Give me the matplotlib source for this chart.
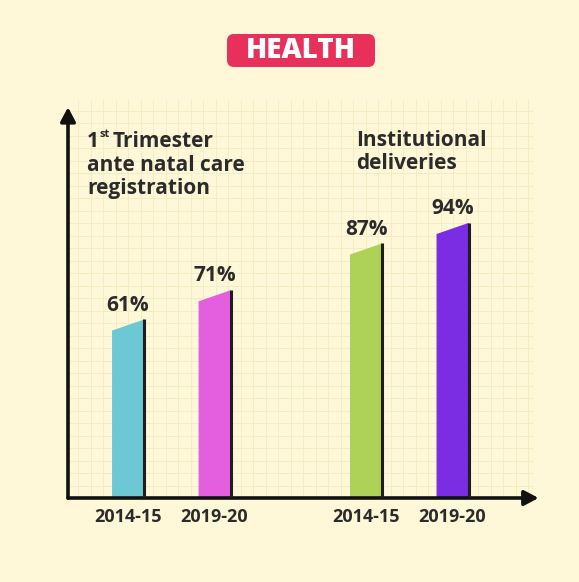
import matplotlib
matplotlib.use("Agg")
import matplotlib.pyplot as plt
from matplotlib.patches import FancyBboxPatch
from matplotlib.ticker import MultipleLocator

plt.rcParams['font.family'] = ['Open Sans', 'DejaVu Sans']

years = ["2014-15", "2019-20", "2014-15", "2019-20"]
values = [61, 71, 87, 94]
positions = [0, 1, 2.75, 3.75]
colors = ["#6CC8D3", "#E35FE0", "#AED257", "#7A2DE2"]
group1_lines = ["ante natal care", "registration"]
group2_lines = ["Institutional", "deliveries"]

BG = "#FEF8D9"
INK = "#2B2B2B"
W, H = 579, 582

fig = plt.figure(figsize=(W / 100, H / 100), dpi=100, facecolor=BG)


def px(x, y):
    # pixel position (from top-left) -> figure fraction
    return x / W, 1 - y / H


# plot area in pixels: x 68..533, y 100..498
x0, x1, ytop, ybot = 68, 533, 100, 498
ax = fig.add_axes([x0 / W, 1 - ybot / H, (x1 - x0) / W, (ybot - ytop) / H])
ax.set_facecolor(BG)
ax.set_xlim(-0.694, 4.68)
ax.set_ylim(0, 136)
for s in ax.spines.values():
    s.set_visible(False)
ax.tick_params(length=0, labelleft=False, labelbottom=False)

# paper grid
ax.xaxis.set_major_locator(MultipleLocator(12.5 / 86.5))
ax.yaxis.set_major_locator(MultipleLocator(4.27))
ax.grid(True, color="#F4ECC2", linewidth=0.7)
ax.set_axisbelow(True)

bw = 0.37
slant = 3.8
for p, v, c in zip(positions, values, colors):
    xs = [p - bw / 2, p + bw / 2, p + bw / 2, p - bw / 2]
    ys = [0, 0, v, v - slant]
    ax.fill(xs, ys, color=c, zorder=3, linewidth=0)
    ax.plot([p + bw / 2, p + bw / 2], [0, v], color="#1E1E1E", lw=2.2, zorder=4,
            solid_capstyle="butt")
    ax.text(p, v + 1.3, f"{v}%", ha="center", va="bottom", fontsize=15,
            fontweight="bold", color=INK, zorder=5)

for p, y in zip(positions, years):
    ax.text(p, -3.3, y, ha="center", va="top", fontsize=13, fontweight="bold",
            color=INK, clip_on=False)

# axes arrows
arrow = dict(arrowstyle="-|>,head_length=0.85,head_width=0.45",
             color="#111111", lw=2.6, shrinkA=0, shrinkB=0)
ax.annotate("", xy=(0, 0.982), xytext=(0, 0), xycoords="axes fraction",
            arrowprops=arrow)
ax.annotate("", xy=(1.012, 0), xytext=(0, 0), xycoords="axes fraction",
            arrowprops=arrow)

# group labels
lab = dict(fontsize=15, fontweight="bold", color=INK, va="baseline")
fig.text(*px(87, 147), "1", **lab)
fig.text(*px(100, 137), "st", fontsize=8, fontweight="bold", color=INK,
         va="baseline")
fig.text(*px(113, 147), "Trimester", **lab)
for i, line in enumerate(group1_lines):
    fig.text(*px(87, 171 + 23 * i), line, **lab)
for i, line in enumerate(group2_lines):
    fig.text(*px(356, 146 + 23 * i), line, **lab)

# HEALTH badge
badge = FancyBboxPatch(px(227, 67), 148 / W, 33 / H,
                       boxstyle="round,pad=0,rounding_size=0.012",
                       transform=fig.transFigure, facecolor="#E8305A",
                       edgecolor="none")
fig.patches.append(badge)
fig.text(*px(301, 51), "HEALTH", ha="center", va="center",
         fontsize=20, fontweight="heavy", color="white")

fig.savefig("out.png", dpi=100, facecolor=BG)
